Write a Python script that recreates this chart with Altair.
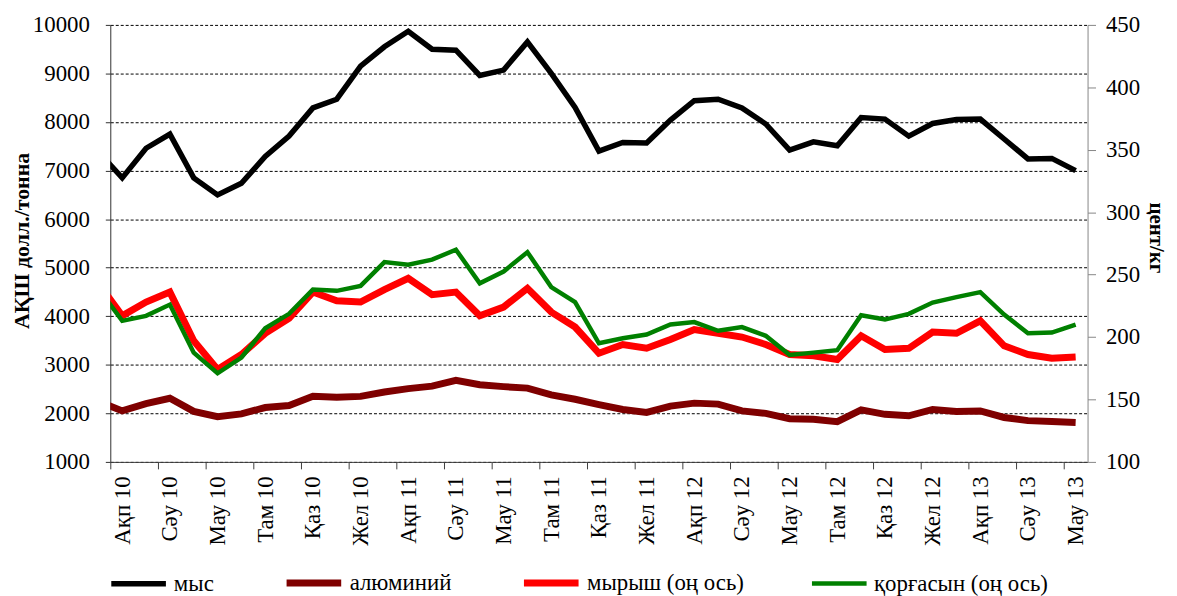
import altair as alt
import pandas as pd

# Series names (legend order)
S_CU = "мыс"
S_AL = "алюминий"
S_ZN = "мырыш (оң ось)"
S_PB = "қорғасын (оң ось)"

# Monthly values, Jan 2010 .. Jun 2013 (Jan 2010 lies just left of the visible axis)
copper = [7386, 6850, 7460, 7750, 6850, 6500, 6740, 7290, 7710, 8290, 8470, 9150,
          9550, 9870, 9500, 9480, 8960, 9070, 9650, 9000, 8300, 7400, 7580, 7570,
          8040, 8440, 8470, 8290, 7960, 7420, 7590, 7510, 8090, 8060, 7710, 7970,
          8050, 8060, 7650, 7240, 7250, 7000]
aluminium = [2250, 2050, 2200, 2310, 2040, 1930, 1990, 2120, 2160, 2350, 2330, 2350,
             2440, 2510, 2560, 2680, 2590, 2550, 2520, 2380, 2290, 2180, 2080, 2020,
             2150, 2210, 2190, 2050, 2000, 1890, 1880, 1830, 2070, 1980, 1950, 2080,
             2040, 2050, 1915, 1850, 1830, 1810]
zinc = [243, 217, 228, 236, 197, 174, 186, 203, 215, 236, 229, 228,
        238, 247, 234, 236, 217, 224, 239, 220, 208, 187, 194, 191,
        198, 206, 203, 200, 194, 186, 185, 182, 201, 190, 191, 204,
        203, 213, 193, 186, 183, 184]
lead = [239, 213, 217, 226, 187.5, 171, 183.6, 207, 218.6, 238, 237, 241,
        260, 258, 262, 270, 243, 252.5, 268, 240, 228, 195, 199, 202,
        210, 212, 205, 208, 201, 185.6, 187.5, 189.5, 217.5, 214, 218.6, 227.6,
        232, 236, 218, 203, 203.6, 210]

tick_labels = ["Ақп 10", "Сәу 10", "Мау 10", "Там 10", "Қаз 10", "Жел 10",
               "Ақп 11", "Сәу 11", "Мау 11", "Там 11", "Қаз 11", "Жел 11",
               "Ақп 12", "Сәу 12", "Мау 12", "Там 12", "Қаз 12", "Жел 12",
               "Ақп 13", "Сәу 13", "Мау 13"]

series_order = [S_CU, S_AL, S_ZN, S_PB]
series_colors = ["#000000", "#7f0000", "#ff0000", "#008000"]
series_widths = [5.5, 7, 7, 4.5]

idx = list(range(-1, len(copper) - 1))  # Feb 2010 = 0


def frame(name, vals):
    return pd.DataFrame({"i": idx, "v": vals, "series": name})


FONT = "Liberation Serif"

x_enc = alt.X(
    "i:Q",
    scale=alt.Scale(domain=[-0.5, 40.5], nice=False, zero=False),
    axis=alt.Axis(
        values=[-0.5 + 2 * k for k in range(len(tick_labels))],
        labelExpr="[" + ",".join("'%s'" % t for t in tick_labels) + "][round((datum.value + 0.5) / 2)]",
        labelAngle=270,
        labelOffset=12,
        labelPadding=7,
        labelFont=FONT, labelFontSize=23, labelColor="#000000",
        tickSize=7,
        tickColor="#404040",
        domainColor="#404040",
        grid=False,
        title=None,
    ),
)

legend_def = alt.Legend(
    orient="none", legendX=-2, legendY=531, direction="horizontal", title=None,
    symbolType="stroke", symbolSize=3025, labelFont=FONT, labelFontSize=23,
    labelColor="#000000", labelOffset=5, columnPadding=58, labelLimit=0,
)

color_enc = alt.Color(
    "series:N",
    scale=alt.Scale(domain=series_order, range=series_colors),
    legend=legend_def,
)
width_enc = alt.StrokeWidth(
    "series:N",
    scale=alt.Scale(type="ordinal", domain=series_order, range=series_widths),
    legend=legend_def,
)

left_axis = alt.Axis(
    values=list(range(1000, 10001, 1000)), format="d",
    labelFont=FONT, labelFontSize=23, labelColor="#000000",
    grid=True, gridDash=[3, 2], gridColor="#000000", gridWidth=1,
    domainColor="#303030", tickColor="#303030", tickSize=5, labelPadding=16,
    title="АҚШ долл./тонна", titleFont=FONT, titleFontSize=22, titleFontWeight="bold",
    titleColor="#000000",
    titleAngle=270, titleX=-89, titleY=217, titleAlign="center", titleBaseline="middle",
)
right_axis = alt.Axis(
    orient="right",
    values=list(range(100, 451, 50)), format="d",
    labelFont=FONT, labelFontSize=23, labelColor="#000000",
    grid=False,
    domainColor="#868686", tickColor="#868686", tickSize=8, labelPadding=10,
    title="цент/кг", titleFont=FONT, titleFontSize=21, titleFontWeight="bold",
    titleColor="#000000",
    titleAngle=90, titleX=68, titleY=214, titleAlign="center", titleBaseline="middle",
)

y_left = alt.Y("v:Q", scale=alt.Scale(domain=[1000, 10000], nice=False, zero=False), axis=left_axis)
y_right = alt.Y("v:Q", scale=alt.Scale(domain=[100, 450], nice=False, zero=False), axis=right_axis)


def line(df, y):
    return alt.Chart(df).mark_line(clip=True).encode(x=x_enc, y=y, color=color_enc, strokeWidth=width_enc)


left = alt.layer(line(frame(S_CU, copper), y_left), line(frame(S_AL, aluminium), y_left))
right = alt.layer(line(frame(S_ZN, zinc), y_right), line(frame(S_PB, lead), y_right))

chart = (
    alt.layer(left, right)
    .resolve_scale(y="independent")
    .properties(
        width=984, height=440,
        autosize=alt.AutoSizeParams(type="none"),
        padding={"left": 103, "top": 15, "right": 82, "bottom": 133},
        background="white",
    )
    .configure_view(stroke=None)
)

chart.save("out.html", embed_options={"renderer": "svg", "actions": False})
